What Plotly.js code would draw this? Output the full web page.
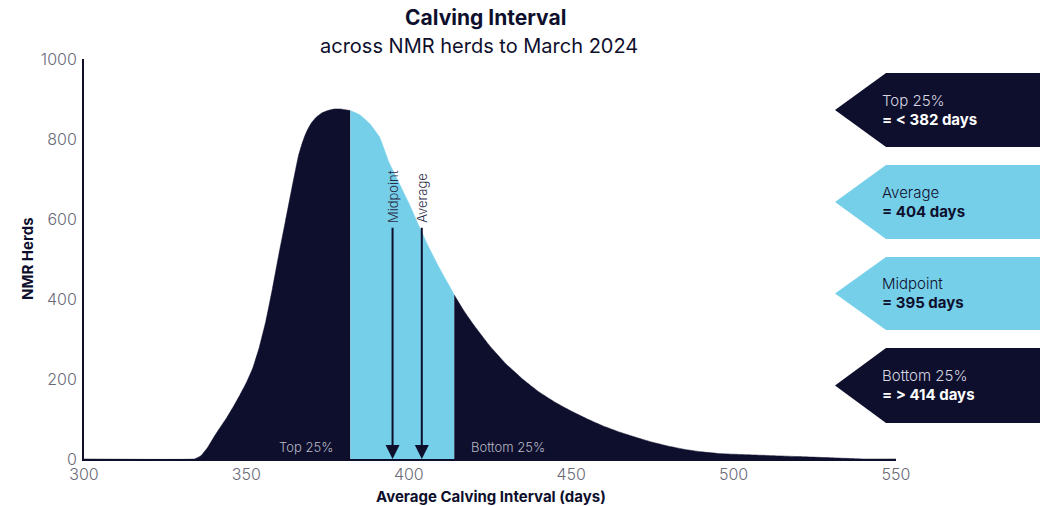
<!DOCTYPE html>
<html>
<head>
<meta charset="utf-8">
<script src="https://cdn.plot.ly/plotly-3.0.1.min.js"></script>
<style>html,body{margin:0;padding:0;background:#fff;}#chart{width:1040px;height:506px;}</style>
</head>
<body>
<div id="chart"></div>
<script>
// ---- data ----
const days = [300, 334, 336, 338, 340, 342, 344, 346, 348, 350, 352, 354, 356, 358, 360, 362, 364, 366, 367, 368, 369, 370, 371, 372, 373, 375, 377, 379, 382,
  385, 388, 391, 394, 397, 400, 403, 406, 409, 412, 414,
  417, 420, 425, 430, 435, 440, 445, 450, 455, 460, 465, 470, 475, 480, 485, 490, 495, 500, 510, 520, 530, 540, 550];
const herds = [0, 0, 8, 28, 55, 80, 104, 131, 160, 191, 228, 280, 345, 425, 512, 594, 677, 757, 785, 808, 826, 840, 850, 858, 864, 871, 875, 875, 871,
  860, 838, 805, 740, 690, 640, 585, 532, 484, 440, 410,
  370, 335, 282, 237, 200, 168, 142, 120, 100, 82, 67, 54, 42, 32, 24, 18, 14, 12, 9, 6, 3, 0, 0];
const top25 = 382;
const bottom25 = 414;
const averageDays = 404;
const midpointDays = 395;
const markerTop = 582;
const boxTitles = ["Top 25%", "Average", "Midpoint", "Bottom 25%"];
const boxValues = ["= &lt; 382 days", "= 404 days", "= 395 days", "= &gt; 414 days"];
const xTicks = [300, 350, 400, 450, 500, 550];
const yTicks = [0, 200, 400, 600, 800, 1000];

// ---- styling ----
const NAVY = "#0e0f2d";
const BLUE = "#76cfe9";
const FONT = "Inter, 'Liberation Sans', sans-serif";

function segment(lo, hi) {
  const xs = [], ys = [];
  days.forEach((d, i) => { if (d >= lo && d <= hi) { xs.push(d); ys.push(herds[i]); } });
  return {xs, ys};
}
const s1 = segment(300, top25), s2 = segment(top25, bottom25), s3 = segment(bottom25, 550);
function area(s, color) {
  return {x: s.xs, y: s.ys, type: "scatter", mode: "lines", fill: "tozeroy",
    fillcolor: color, line: {color: color, width: 0.5, shape: "spline", smoothing: 0.25}, hoverinfo: "skip"};
}
const traces = [area(s1, NAVY), area(s2, BLUE), area(s3, NAVY)];

// plot area in pixels: x 84..896, y 59..459
const L = 84, R = 896, T = 59, B = 459;
const px = v => (v - L) / (R - L);
const py = v => (B - v) / (B - T);

const boxes = [
  {top: 73, bot: 147, fill: NAVY, t1: "#d6d6e0", t2: "#ffffff"},
  {top: 165, bot: 239, fill: BLUE, t1: NAVY, t2: NAVY},
  {top: 257, bot: 330, fill: BLUE, t1: NAVY, t2: NAVY},
  {top: 348, bot: 423, fill: NAVY, t1: "#d6d6e0", t2: "#ffffff"}
];
const shapes = [];
const annotations = [];
boxes.forEach((b, i) => {
  const mid = (b.top + b.bot) / 2;
  const path = `M ${px(835)} ${py(mid)} L ${px(886)} ${py(b.top)} L ${px(1045)} ${py(b.top)} L ${px(1045)} ${py(b.bot)} L ${px(886)} ${py(b.bot)} Z`;
  shapes.push({type: "path", xref: "paper", yref: "paper", path: path, fillcolor: b.fill, line: {width: 0}, layer: "above"});
  annotations.push({xref: "paper", yref: "paper", x: px(880), y: py(mid - 10), xanchor: "left", yanchor: "middle",
    text: boxTitles[i], showarrow: false, font: {family: FONT, size: 15, color: b.t1, weight: 300}});
  annotations.push({xref: "paper", yref: "paper", x: px(880), y: py(mid + 9), xanchor: "left", yanchor: "middle",
    text: "<b>" + boxValues[i] + "</b>", showarrow: false, font: {family: FONT, size: 15, color: b.t2}});
});

// arrows
[[midpointDays, "Midpoint"], [averageDays, "Average"]].forEach(([d, label]) => {
  annotations.push({x: d, y: 0, xref: "x", yref: "y", ax: d, ay: markerTop, axref: "x", ayref: "y",
    text: "", showarrow: true, arrowhead: 2, arrowsize: 1.4, arrowwidth: 2, arrowcolor: NAVY, standoff: 0});
  annotations.push({x: d, y: markerTop + 3, xref: "x", yref: "y", xanchor: "center", yanchor: "bottom",
    text: label, textangle: -90, showarrow: false, font: {family: FONT, size: 13, color: "#2a2b45", weight: 300}});
});

annotations.push({x: 377.3, y: 30, xref: "x", yref: "y", xanchor: "right", yanchor: "middle", text: "Top 25%",
  showarrow: false, font: {family: FONT, size: 13, color: "#b8b8c4", weight: 300}});
annotations.push({x: 418.5, y: 30, xref: "x", yref: "y", xanchor: "left", yanchor: "middle", text: "Bottom 25%",
  showarrow: false, font: {family: FONT, size: 13, color: "#b8b8c4", weight: 300}});

// titles
annotations.push({xref: "paper", yref: "paper", x: px(485), y: py(18), xanchor: "center", yanchor: "middle",
  text: "<b>Calving Interval</b>", showarrow: false, font: {family: FONT, size: 21, color: NAVY, weight: 800}});
annotations.push({xref: "paper", yref: "paper", x: px(479), y: py(46), xanchor: "center", yanchor: "middle",
  text: "across NMR herds to March 2024", showarrow: false, font: {family: FONT, size: 20, color: NAVY}});
annotations.push({xref: "paper", yref: "paper", x: px(491), y: py(496), xanchor: "center", yanchor: "middle",
  text: "<b>Average Calving Interval (days)</b>", showarrow: false, font: {family: FONT, size: 15, color: NAVY}});
annotations.push({xref: "paper", yref: "paper", x: px(27), y: py(259), xanchor: "center", yanchor: "middle",
  text: "<b>NMR Herds</b>", textangle: -90, showarrow: false, font: {family: FONT, size: 15, color: NAVY}});

const layout = {
  width: 1040, height: 506,
  margin: {l: L, r: 1040 - R, t: T, b: 506 - B, pad: 0},
  paper_bgcolor: "#ffffff", plot_bgcolor: "#ffffff",
  showlegend: false,
  xaxis: {range: [300, 550], tickvals: xTicks, showgrid: false, zeroline: false, showline: true,
    linecolor: NAVY, linewidth: 2, ticks: "", tickfont: {family: FONT, size: 16, color: "#6a6a78", weight: 300}},
  yaxis: {range: [0, 1000], tickvals: yTicks, showgrid: false, zeroline: false, showline: true,
    linecolor: NAVY, linewidth: 2, ticks: "", ticklabelstandoff: 2, tickfont: {family: FONT, size: 16, color: "#6a6a78", weight: 300}},
  shapes: shapes,
  annotations: annotations
};
Plotly.newPlot("chart", traces, layout, {displayModeBar: false, staticPlot: true});
</script>
</body>
</html>
